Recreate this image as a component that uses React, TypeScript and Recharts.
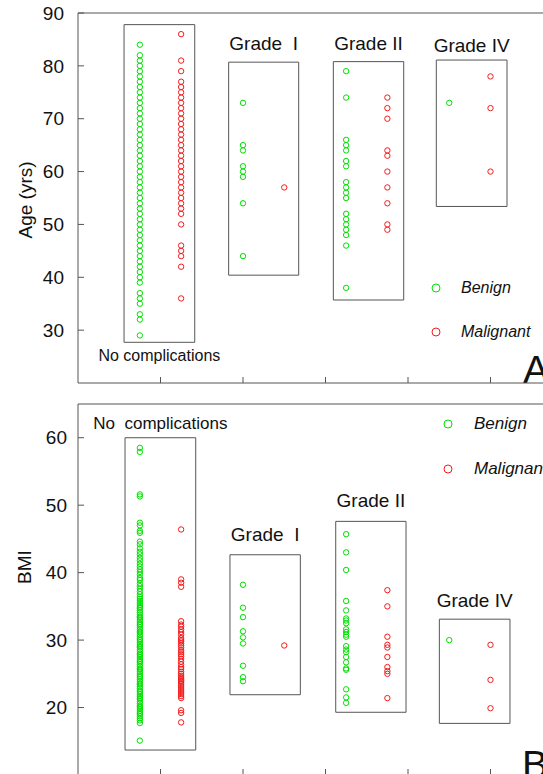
import React from 'react';
import { ScatterChart, Scatter, XAxis, YAxis, ReferenceArea, ReferenceLine, Legend } from 'recharts';

const FONT = '"Liberation Sans", Arial, Helvetica, sans-serif';
const GREEN = '#00e000';
const RED = '#f41c1c';
const LINE = '#555555';
const TEXT = '#111111';

const groups = ['No complications', 'Grade I', 'Grade II', 'Grade IV'];
const benignX = [0.75, 2.0, 3.25, 4.5];
const malignantX = [1.25, 2.5, 3.75, 5.0];
const xTicks = [1, 2, 3, 4, 5];
const ageTicks = [30, 40, 50, 60, 70, 80, 90];
const bmiTicks = [20, 30, 40, 50, 60];

const ageBenign = [
  [84, 82, 81, 80, 79, 78, 77, 76, 75, 74, 73, 72, 71, 70, 69, 68, 67, 66, 65, 64, 63, 62, 61, 60, 59, 58, 57, 56, 55, 54, 53, 52, 51, 50, 49, 48, 47, 46, 45, 44, 43, 42, 41, 40, 39, 37, 36, 35, 33, 32, 29],
  [73, 65, 64, 61, 60, 59, 54, 44],
  [79, 74, 66, 65, 64, 62, 61, 58, 57, 56, 55, 52, 51, 50, 49, 48, 46, 38],
  [73],
];
const ageMalignant = [
  [86, 81, 79, 77, 76, 75, 74, 73, 72, 71, 70, 69, 68, 67, 66, 65, 64, 63, 62, 61, 60, 59, 58, 57, 56, 55, 54, 53, 52, 50, 46, 45, 44, 42, 36],
  [57],
  [74, 72, 70, 64, 63, 60, 57, 54, 50, 49],
  [78, 72, 60],
];

const bmiBenign = [
  [58.5, 57.9, 51.6, 51.3, 47.4, 47.0, 46.2, 45.9, 44.6, 44.2, 43.6, 43.1, 42.7, 42.2, 41.8, 41.3, 40.9, 40.5, 40.1, 39.7, 39.2, 38.9, 38.4, 38.0, 37.6, 37.2, 36.8, 36.4, 36.1, 35.8, 35.5, 35.2, 34.9, 34.7, 34.4, 34.1, 33.8, 33.5, 33.3, 33.0, 32.7, 32.4, 32.2, 31.9, 31.6, 31.3, 31.1, 30.8, 30.5, 30.2, 30.0, 29.7, 29.4, 29.1, 28.9, 28.6, 28.3, 28.0, 27.8, 27.5, 27.2, 26.9, 26.7, 26.4, 26.1, 25.8, 25.6, 25.3, 25.0, 24.7, 24.5, 24.2, 23.9, 23.6, 23.4, 23.1, 22.8, 22.5, 22.3, 22.0, 21.7, 21.4, 21.2, 20.9, 20.6, 20.3, 20.1, 19.8, 19.5, 19.2, 19.0, 18.7, 18.4, 18.1, 17.7, 15.1],
  [38.2, 34.8, 33.4, 31.3, 30.4, 29.5, 26.2, 24.5, 23.9],
  [45.7, 43.0, 40.4, 35.8, 34.4, 33.2, 32.9, 32.5, 31.6, 31.2, 30.8, 30.5, 29.1, 28.6, 28.2, 27.5, 26.7, 25.8, 25.6, 22.7, 21.5, 20.7],
  [30.0],
];
const bmiMalignant = [
  [46.4, 39.0, 38.5, 37.9, 32.8, 32.3, 32.0, 31.6, 31.2, 30.8, 30.3, 30.0, 29.8, 29.5, 29.2, 28.9, 28.5, 28.2, 27.9, 27.6, 27.2, 26.8, 26.4, 26.0, 25.7, 25.3, 25.0, 24.7, 24.4, 24.2, 24.0, 23.8, 23.5, 23.2, 22.9, 22.6, 22.3, 22.0, 21.7, 21.4, 19.6, 19.2, 17.8],
  [29.2],
  [37.4, 35.0, 30.5, 29.3, 28.9, 27.5, 26.0, 25.4, 25.0, 21.4],
  [29.3, 24.1, 19.9],
];

// group enclosure boxes in data units
const ageBoxes = [
  { x1: 0.558, x2: 1.415, y1: 27.7, y2: 87.8 },
  { x1: 1.826, x2: 2.675, y1: 40.4, y2: 80.7 },
  { x1: 3.095, x2: 3.948, y1: 35.7, y2: 80.8 },
  { x1: 4.343, x2: 5.2, y1: 53.4, y2: 81.1 },
];
const bmiBoxes = [
  { x1: 0.57, x2: 1.427, y1: 13.7, y2: 60.0 },
  { x1: 1.842, x2: 2.695, y1: 21.9, y2: 42.65 },
  { x1: 3.124, x2: 3.976, y1: 19.3, y2: 47.6 },
  { x1: 4.38, x2: 5.236, y1: 17.65, y2: 33.1 },
];

const ageLabelPos = [
  { position: 'bottom', offset: 7, text: 'No complications', size: 16 },
  { position: 'top', offset: 12, text: 'Grade\u00a0 I', size: 19 },
  { position: 'top', offset: 12, text: 'Grade II', size: 19 },
  { position: 'top', offset: 8, text: 'Grade IV', size: 19 },
];
const bmiLabelPos = [
  { position: 'top', offset: 9, text: 'No\u00a0 complications', size: 17 },
  { position: 'top', offset: 14, text: 'Grade\u00a0 I', size: 19 },
  { position: 'top', offset: 14, text: 'Grade II', size: 19 },
  { position: 'top', offset: 12, text: 'Grade IV', size: 19 },
];

const toPoints = (xs: number[], vals: number[][]) =>
  vals.flatMap((list, gi) => list.map((v) => ({ x: xs[gi], y: v, group: groups[gi] })));

const Ring = (color: string, r: number) => (props: any) => {
  if (props.cx == null || props.cy == null) return <g />;
  return <circle cx={props.cx} cy={props.cy} r={r} fill="none" stroke={color} strokeWidth={1} />;
};

const makeLegend = (fontSize: number, rowH: number, gap: number) => (props: any) => (
  <div style={{ fontFamily: FONT }}>
    {(props.payload || []).map((p: any, i: number) => (
      <div key={p.value} style={{ display: 'flex', alignItems: 'center', height: rowH }}>
        <svg width={12} height={12} style={{ marginRight: gap, flex: 'none' }}>
          <circle cx={6} cy={6} r={4} fill="none" stroke={i === 0 ? GREEN : RED} strokeWidth={1} />
        </svg>
        <span style={{ fontStyle: 'italic', fontSize, color: TEXT, whiteSpace: 'nowrap' }}>{p.value}</span>
      </div>
    ))}
  </div>
);

const W = 573;

function Panel(props: {
  height: number;
  top: number;
  domain: [number, number];
  ticks: number[];
  benign: number[][];
  malignant: number[][];
  boxes: { x1: number; x2: number; y1: number; y2: number }[];
  labels: { position: string; offset: number; text: string; size: number }[];
  tickFont: number;
  tickMargin: number;
  title: string;
  titleX: number;
  titleY: number;
  titleSize: number;
  corner: string;
  cornerX: number;
  cornerY: number;
  legendLeft: number;
  legendTop: number;
  legendFont: number;
  legendRow: number;
  legendGap: number;
}) {
  const benignPts = toPoints(benignX, props.benign);
  const malignantPts = toPoints(malignantX, props.malignant);
  return (
    <ScatterChart
      width={W}
      height={props.height}
      margin={{ top: props.top, right: 0, bottom: 0, left: 0 }}
      style={{ fontFamily: FONT }}
    >
      <XAxis
        type="number"
        dataKey="x"
        domain={[0, 6]}
        allowDataOverflow
        ticks={xTicks}
        height={7}
        tickSize={-6}
        tickFormatter={() => ''}
        axisLine={{ stroke: LINE }}
        tickLine={{ stroke: LINE }}
      />
      <YAxis
        type="number"
        dataKey="y"
        domain={props.domain}
        allowDataOverflow
        ticks={props.ticks}
        width={78}
        tickSize={-6}
        tickMargin={props.tickMargin}
        axisLine={{ stroke: LINE }}
        tickLine={{ stroke: LINE }}
        tick={{ fill: TEXT, fontSize: props.tickFont, fontFamily: FONT }}
      />
      <ReferenceLine y={props.domain[1]} stroke={LINE} />
      {props.boxes.map((b, i) => (
        <ReferenceArea
          key={i}
          x1={b.x1}
          x2={b.x2}
          y1={b.y1}
          y2={b.y2}
          fill="none"
          fillOpacity={0}
          stroke={LINE}
          strokeWidth={1}
          label={{
            value: props.labels[i].text,
            position: props.labels[i].position as any,
            offset: props.labels[i].offset,
            fontSize: props.labels[i].size,
            fill: TEXT,
            fontFamily: FONT,
          }}
        />
      ))}
      <Scatter
        name="Benign"
        data={benignPts}
        fill={GREEN}
        stroke={GREEN}
        shape={Ring(GREEN, 2.7)}
        isAnimationActive={false}
      />
      <Scatter
        name="Malignant"
        data={malignantPts}
        fill={RED}
        stroke={RED}
        shape={Ring(RED, 2.7)}
        isAnimationActive={false}
      />
      <Legend
        layout="vertical"
        align="center"
        verticalAlign="middle"
        wrapperStyle={{ left: props.legendLeft, top: props.legendTop, width: 'auto', height: 'auto' }}
        content={makeLegend(props.legendFont, props.legendRow, props.legendGap)}
      />
      <text
        x={props.titleX}
        y={props.titleY}
        transform={`rotate(-90 ${props.titleX} ${props.titleY})`}
        textAnchor="middle"
        dominantBaseline="central"
        fontSize={props.titleSize}
        fill={TEXT}
        fontFamily={FONT}
      >
        {props.title}
      </text>
      <text x={props.cornerX} y={props.cornerY} fontSize={39} fill={TEXT} fontFamily={FONT}>
        {props.corner}
      </text>
    </ScatterChart>
  );
}

export default function App() {
  return (
    <div
      style={{
        position: 'fixed',
        left: 0,
        top: 0,
        width: 543,
        height: 774,
        overflow: 'hidden',
        background: '#ffffff',
      }}
    >
      <div style={{ position: 'absolute', left: 0, top: 0 }}>
        <Panel
          height={390}
          top={13}
          domain={[20, 90]}
          ticks={ageTicks}
          benign={ageBenign}
          malignant={ageMalignant}
          boxes={ageBoxes}
          labels={ageLabelPos}
          tickFont={19}
          tickMargin={20}
          title="Age (yrs)"
          titleX={25}
          titleY={200}
          titleSize={19}
          corner="A"
          cornerX={523}
          cornerY={383}
          legendLeft={430}
          legendTop={266}
          legendFont={16}
          legendRow={44}
          legendGap={19}
        />
      </div>
      <div style={{ position: 'absolute', left: 0, top: 390 }}>
        <Panel
          height={392}
          top={14}
          domain={[10, 65]}
          ticks={bmiTicks}
          benign={bmiBenign}
          malignant={bmiMalignant}
          boxes={bmiBoxes}
          labels={bmiLabelPos}
          tickFont={19}
          tickMargin={17}
          title="BMI"
          titleX={24}
          titleY={177}
          titleSize={19}
          corner="B"
          cornerX={522}
          cornerY={388}
          legendLeft={442}
          legendTop={11}
          legendFont={17}
          legendRow={45}
          legendGap={20}
        />
      </div>
    </div>
  );
}
